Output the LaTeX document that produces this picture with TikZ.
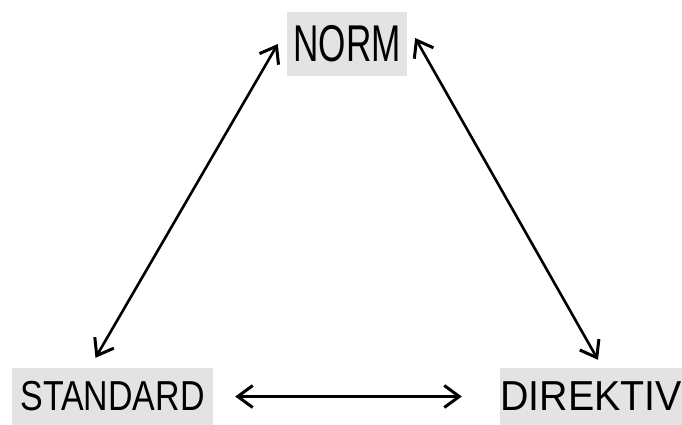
\documentclass[tikz,border=0pt]{standalone}
\usepackage{fontspec}
\setmainfont{Liberation Sans}
\usetikzlibrary{arrows.meta}
\newcommand{\hw}[2]{\scalebox{#1}[1]{#2}}

\begin{document}
\begin{tikzpicture}[x=1pt,y=-1pt,
    box/.style={fill=black!11,inner sep=0pt},
    barb/.tip={Straight Barb[length=15pt,width=22pt,line width=3pt]},
    conn/.style={barb-barb,line width=2.6pt}]
    \useasboundingbox (0,0) rectangle (682,425);
    \node[box,minimum width=120pt,minimum height=64pt] (norm) at (347,44)
        {\fontsize{51.7}{52}\selectfont\hw{0.68}{NORM}};
    \node[box,minimum width=201pt,minimum height=57pt] (standard) at (112.5,396.5)
        {\fontsize{41.9}{42}\selectfont\hw{0.81}{STANDARD}};
    \node[box,minimum width=182pt,minimum height=57pt] (direktiv) at (591,396.5)
        {\fontsize{41.9}{42}\selectfont\hw{0.94}{DIREKTIV}};

    \draw[conn] ([xshift=-9pt]norm.west) -- ([xshift=-17pt,yshift=10pt]standard.north);
    \draw[conn] ([xshift=8pt,yshift=6pt]norm.east) -- ([xshift=7pt,yshift=8pt]direktiv.north);
    \draw[conn] ([xshift=22pt]standard.east) -- ([xshift=-38pt]direktiv.west);
\end{tikzpicture}
\end{document}
